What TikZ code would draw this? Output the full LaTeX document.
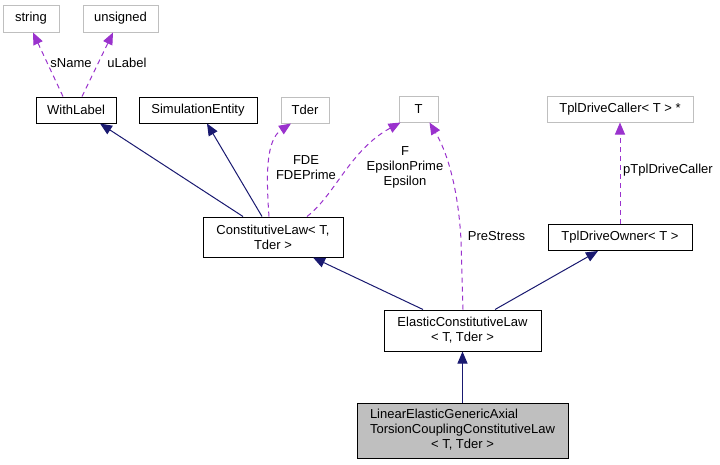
\documentclass[tikz,border=0pt]{standalone}
\usepackage{fontspec}
\setmainfont{Liberation Sans}
\usetikzlibrary{arrows.meta}
\definecolor{navy}{HTML}{191970}
\definecolor{orch}{HTML}{9A32CD}
\definecolor{gb}{HTML}{BFBFBF}
\begin{document}
\begin{tikzpicture}[x=1pt,y=-1pt,
 box/.style={draw=black,line width=1pt,inner sep=0pt,font=\fontsize{13}{15}\selectfont,align=center},
 gbox/.style={box,draw=gb},
 inh/.style={draw=navy,line width=1pt,-{Triangle[length=12pt,width=10pt]}},
 use/.style={draw=orch,line width=1pt,dash pattern=on 5pt off 4pt,-{Triangle[length=12pt,width=10pt]}},
 lab/.style={font=\fontsize{13}{15}\selectfont,align=center,inner sep=0pt}]
\useasboundingbox (0,0) rectangle (720,464);
\node[gbox,minimum width=56pt,minimum height=27pt] (str) at (31,18.5) {string};
\node[gbox,minimum width=75pt,minimum height=27pt] (uns) at (120.5,18.5) {unsigned};
\node[box,minimum width=80pt,minimum height=26pt] (wl) at (76,110) {WithLabel};
\node[box,minimum width=118pt,minimum height=26pt] (se) at (198,110) {SimulationEntity};
\node[gbox,minimum width=48pt,minimum height=26pt] (tder) at (305,110) {Tder};
\node[gbox,minimum width=39pt,minimum height=26pt] (t) at (418.5,109) {T};
\node[gbox,minimum width=146pt,minimum height=26pt] (tdc) at (620,109) {TplDriveCaller< T > *};
\node[box,minimum width=140pt,minimum height=40pt] (cl) at (273,237) {ConstitutiveLaw< T,\\Tder >};
\node[box,minimum width=144pt,minimum height=26pt] (tdo) at (620,237.5) {TplDriveOwner< T >};
\node[box,minimum width=157pt,minimum height=41pt] (ecl) at (462.5,330.5) {ElasticConstitutiveLaw\\< T, Tder >};
\node[box,fill=gb,minimum width=211pt,minimum height=55pt] (lin) at (462.5,430.5) {\begin{tabular}{@{}l@{}}LinearElasticGenericAxial\\TorsionCouplingConstitutiveLaw\\\multicolumn{1}{@{}c@{}}{< T, Tder >}\end{tabular}};
% edges
\draw[use] ([xshift=-13pt]wl.north) -- ([xshift=2pt]str.south);
\draw[use] ([xshift=6pt]wl.north) -- ([xshift=-7.5pt]uns.south);
\node[lab] (lsn) at (71,63) {sName};
\node[lab] (lul) at (127,63) {uLabel};
\draw[inh] ([xshift=-30pt]cl.north) -- ([xshift=24pt]wl.south);
\draw[inh] ([xshift=-11pt]cl.north) -- ([xshift=9pt]se.south);
\draw[use] ([xshift=-4pt]cl.north) .. controls (266,175) and (266,140) .. ([xshift=-14pt]tder.south);
\node[lab] (lfde) at (306,168) {FDE\\FDEPrime};
\draw[use] ([xshift=34pt]cl.north) .. controls (335,195) and (350,150) .. ([xshift=-18pt]t.south);
\node[lab] (lf) at (405,167) {F\\EpsilonPrime\\Epsilon};
\draw[inh] ([xshift=-39.5pt]ecl.north) -- ([xshift=40pt]cl.south);
\coordinate (ps) at (461,240);
\draw[use] ([xshift=0.5pt]ecl.north) -- (ps) .. controls (458,185) and (446,150) .. ([xshift=11pt]t.south);
\node[lab] (lps) at (496.5,236) {PreStress};
\draw[inh] ([xshift=32.5pt]ecl.north) -- ([xshift=-22pt]tdo.south);
\draw[use] (tdo.north) -- (tdc.south);
\node[lab] (lptc) at (668,170) {pTplDriveCaller};
\draw[inh] (lin.north) -- (ecl.south);
\end{tikzpicture}
\end{document}
